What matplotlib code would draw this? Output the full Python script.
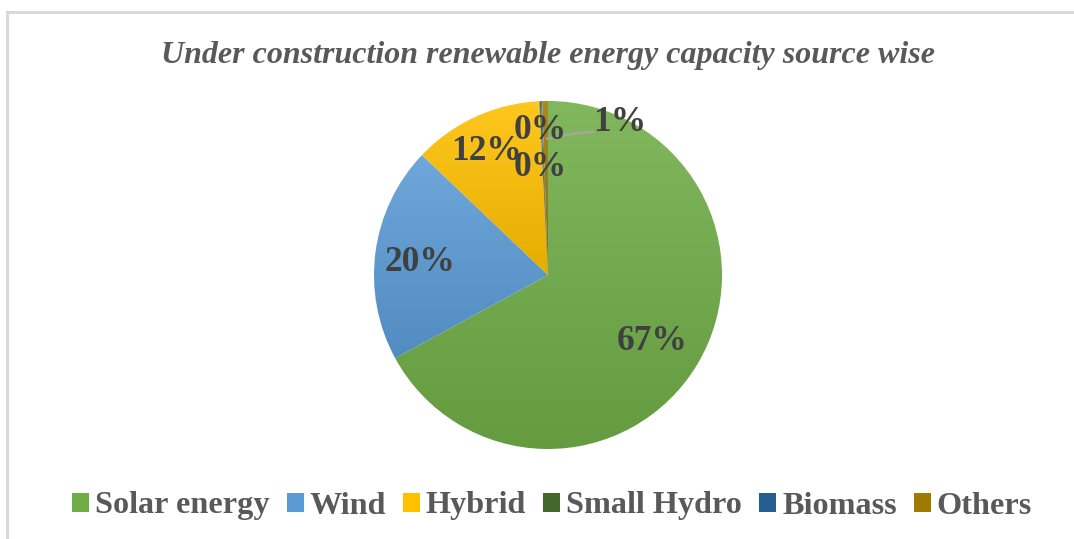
import numpy as np
import matplotlib
matplotlib.use("Agg")
import matplotlib.pyplot as plt
from matplotlib.colors import LinearSegmentedColormap, to_rgb
from matplotlib.patches import Patch
from matplotlib.lines import Line2D

# Share of under-construction renewable capacity by source (%)
sources = ["Solar energy", "Wind", "Hybrid", "Small Hydro", "Biomass", "Others"]
shares = [67.1, 20.05, 12.1, 0.15, 0.12, 0.53]
colors = ["#70ad47", "#5b9bd5", "#ffc000", "#43682b", "#255e91", "#9e7a00"]
title = "Under construction renewable energy capacity source wise"

plt.rcParams["font.family"] = ["Liberation Serif", "DejaVu Serif"]

W, H = 1074, 539
fig = plt.figure(figsize=(W / 100, H / 100), dpi=100)
fig.patch.set_facecolor("white")

# light frame around the chart area
fig.add_artist(Line2D([7 / W, 7 / W], [0, 1 - 12 / H], color="#d9d9d9", lw=2.2))
fig.add_artist(Line2D([7 / W, 1.01], [1 - 12 / H, 1 - 12 / H], color="#d9d9d9", lw=2.2,
                      solid_capstyle="butt"))

cx, cy, r = 548, 275, 174
ax = fig.add_axes([(cx - r) / W, (H - cy - r) / H, 2 * r / W, 2 * r / H])
ax.set_aspect("equal")

wedges, _ = ax.pie(shares, colors=colors, startangle=90, counterclock=False,
                   radius=1.0, wedgeprops=dict(linewidth=0))
ax.set_xlim(-1, 1)
ax.set_ylim(-1, 1)
ax.axis("off")


def shade(c, f):
    rgb = np.array(to_rgb(c))
    if f >= 0:
        return tuple(rgb + (1 - rgb) * f)
    return tuple(rgb * (1 + f))


# vertical gradient fill for every slice, light at top, darker at bottom
grad = np.linspace(0, 1, 256).reshape(-1, 1)
for w, c in zip(wedges, colors):
    bb = w.get_path().get_extents()
    cmap = LinearSegmentedColormap.from_list("g", [shade(c, 0.12), shade(c, -0.1)])
    w.set_facecolor("none")
    im = ax.imshow(grad, cmap=cmap, aspect="auto", origin="upper",
                   extent=[bb.x0, bb.x1, bb.y0, bb.y1], zorder=w.get_zorder(),
                   interpolation="bilinear")
    im.set_clip_path(w)
ax.set_xlim(-1, 1)
ax.set_ylim(-1, 1)

# percentage labels
total = sum(shares)
label_pos = [(0.60, -0.385), (-0.736, 0.069), (-0.355, 0.71),
             (-0.046, 0.833), (-0.046, 0.615), (0.414, 0.879)]
for v, (lx, ly) in zip(shares, label_pos):
    ax.text(lx, ly, f"{round(v / total * 100):.0f}%", ha="center", va="center",
            fontsize=25.5, fontweight="bold", color="#404040", zorder=5)

# leader line for the "Others" slice label
ax.plot([-0.006, 0.08, 0.18, 0.264], [0.782, 0.80, 0.818, 0.822],
        color="#a6a6a6", lw=1.6, zorder=4, solid_capstyle="round")

fig.text(cx / W, 1 - 55 / H, title, ha="center", va="center", fontsize=23,
         fontweight="bold", fontstyle="italic", color="#595959")

handles = [Patch(facecolor=c, edgecolor="none") for c in colors]
fig.legend(handles, sources, loc="center", bbox_to_anchor=(552 / W, 1 - 506 / H),
           ncol=6, frameon=False, handlelength=0.53, handleheight=0.53,
           handletextpad=0.18, columnspacing=0.53,
           prop=dict(size=23.2, weight="bold"), labelcolor="#595959")

fig.savefig("out.png", dpi=100, facecolor="white")
